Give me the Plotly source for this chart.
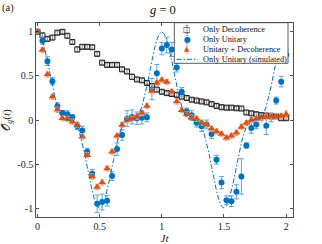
import plotly.graph_objects as go

# ---------------- data ----------------
t_exp = [0.00, 0.04, 0.08, 0.12, 0.16, 0.20, 0.24, 0.28, 0.32, 0.36,
         0.40, 0.44, 0.48, 0.52, 0.56, 0.60, 0.64, 0.68, 0.72, 0.76,
         0.80, 0.84, 0.88, 0.92, 0.96, 1.00, 1.04, 1.08, 1.12, 1.16,
         1.20, 1.24, 1.28, 1.32, 1.36, 1.40, 1.44, 1.48, 1.52, 1.56,
         1.60, 1.64, 1.68, 1.72, 1.76, 1.80, 1.84, 1.88, 1.92, 1.96, 2.00]

only_decoherence = [1.00, 0.96, 0.92, 0.935, 0.99, 1.00, 0.955, 0.885, 0.80, 0.83,
                    0.83, 0.825, 0.75, 0.65, 0.625, 0.625, 0.625, 0.575, 0.55, 0.49,
                    0.46, 0.45, 0.42, 0.385, 0.345, 0.32, 0.305, 0.295, 0.285, 0.265,
                    0.25, 0.23, 0.22, 0.21, 0.20, 0.18, 0.16, 0.145, 0.14, 0.14,
                    0.133, 0.13, 0.085, 0.076, 0.065, 0.055, 0.05, 0.045, 0.04, 0.02, 0.02]
only_decoherence_err = [0.01, 0.02, 0.02, 0.02, 0.02, 0.02, 0.02, 0.02, 0.03, 0.02,
                        0.02, 0.02, 0.02, 0.02, 0.02, 0.02, 0.02, 0.02, 0.02, 0.03,
                        0.02, 0.02, 0.02, 0.02, 0.02, 0.02, 0.02, 0.02, 0.02, 0.02,
                        0.02, 0.02, 0.02, 0.02, 0.02, 0.02, 0.02, 0.02, 0.02, 0.02,
                        0.02, 0.02, 0.02, 0.02, 0.02, 0.02, 0.02, 0.02, 0.02, 0.02, 0.02]

only_unitary = [1.00, 0.90, 0.667, 0.44, 0.155, 0.08, 0.065, 0.03, -0.07, -0.12,
                -0.36, -0.61, -0.95, -0.93, -0.915, -0.636, -0.33, -0.17, 0.015, 0.035,
                0.02, 0.025, 0.03, 0.35, 0.53, 0.81, 0.85, 0.80, 0.595, 0.32,
                0.095, 0.055, -0.03, -0.07, -0.05, -0.16, -0.45, -0.71, -0.91, -0.92,
                -0.815, -0.64, -0.29, -0.09, -0.05, 0.03, -0.065, 0.03, 0.22, 0.435, 0.74]
only_unitary_err = [0.02, 0.04, 0.05, 0.04, 0.04, 0.03, 0.04, 0.03, 0.04, 0.05,
                    0.04, 0.05, 0.10, 0.09, 0.06, 0.05, 0.07, 0.06, 0.09, 0.08,
                    0.07, 0.07, 0.05, 0.12, 0.10, 0.07, 0.09, 0.08, 0.05, 0.05,
                    0.04, 0.05, 0.05, 0.06, 0.05, 0.05, 0.05, 0.07, 0.05, 0.06,
                    0.08, 0.20, 0.03, 0.06, 0.05, 0.04, 0.10, 0.05, 0.04, 0.06, 0.06]

unitary_plus_decoherence = [1.00, 0.795, 0.515, 0.265, 0.115, 0.02, 0.01, -0.02, -0.055, -0.19,
                            -0.40, -0.64, -0.76, -0.71, -0.55, -0.36, -0.18, -0.057, 0.00, 0.01,
                            0.04, 0.08, 0.16, 0.33, 0.42, 0.455, 0.43, 0.32, 0.21, 0.11,
                            0.065, 0.025, 0.015, -0.03, -0.05, -0.10, -0.13, -0.16, -0.20, -0.18,
                            -0.145, -0.08, -0.035, 0.00, 0.015, 0.03, 0.035, 0.04, 0.04, 0.045, 0.065]
unitary_plus_decoherence_err = [0.02, 0.03, 0.03, 0.03, 0.03, 0.03, 0.03, 0.03, 0.03, 0.03,
                                0.03, 0.03, 0.03, 0.03, 0.03, 0.03, 0.03, 0.03, 0.03, 0.03,
                                0.03, 0.03, 0.03, 0.03, 0.03, 0.03, 0.03, 0.03, 0.03, 0.03,
                                0.03, 0.03, 0.03, 0.03, 0.03, 0.03, 0.03, 0.03, 0.03, 0.03,
                                0.03, 0.03, 0.03, 0.03, 0.03, 0.03, 0.03, 0.03, 0.03, 0.03, 0.04]

t_sim = [0.00, 0.02, 0.04, 0.06, 0.08, 0.10, 0.12, 0.14, 0.16, 0.18,
         0.20, 0.22, 0.24, 0.26, 0.28, 0.30, 0.32, 0.34, 0.36, 0.38,
         0.40, 0.42, 0.44, 0.46, 0.48, 0.50, 0.52, 0.54, 0.56, 0.58,
         0.60, 0.62, 0.64, 0.66, 0.68, 0.70, 0.72, 0.74, 0.76, 0.78,
         0.80, 0.82, 0.84, 0.86, 0.88, 0.90, 0.92, 0.94, 0.96, 0.98,
         1.00, 1.02, 1.04, 1.06, 1.08, 1.10, 1.12, 1.14, 1.16, 1.18,
         1.20, 1.22, 1.24, 1.26, 1.28, 1.30, 1.32, 1.34, 1.36, 1.38,
         1.40, 1.42, 1.44, 1.46, 1.48, 1.50, 1.52, 1.54, 1.56, 1.58,
         1.60, 1.62, 1.64, 1.66, 1.68, 1.70, 1.72, 1.74, 1.76, 1.78,
         1.80, 1.82, 1.84, 1.86, 1.88, 1.90, 1.92, 1.94, 1.96, 1.98, 2.00]
only_unitary_sim = [1.000, 0.977, 0.909, 0.804, 0.673, 0.530, 0.387, 0.259, 0.154, 0.077,
                    0.030, 0.007, 0.000, 0.000, -0.007, -0.030, -0.077, -0.154, -0.259, -0.387,
                    -0.530, -0.673, -0.804, -0.909, -0.977, -1.000, -0.977, -0.909, -0.804, -0.673,
                    -0.530, -0.387, -0.259, -0.154, -0.077, -0.030, -0.007, 0.000, 0.000, 0.007,
                    0.030, 0.077, 0.154, 0.259, 0.387, 0.530, 0.673, 0.804, 0.909, 0.977,
                    1.000, 0.977, 0.909, 0.804, 0.673, 0.530, 0.387, 0.259, 0.154, 0.077,
                    0.030, 0.007, 0.000, 0.000, -0.007, -0.030, -0.077, -0.154, -0.259, -0.387,
                    -0.530, -0.673, -0.804, -0.909, -0.977, -1.000, -0.977, -0.909, -0.804, -0.673,
                    -0.530, -0.387, -0.259, -0.154, -0.077, -0.030, -0.007, 0.000, 0.000, 0.007,
                    0.030, 0.077, 0.154, 0.259, 0.387, 0.530, 0.673, 0.804, 0.909, 0.977, 1.000]

x_ticks = [0, 0.5, 1, 1.5, 2]
x_tick_labels = ["0", "0.5", "1", "1.5", "2"]
y_ticks = [-1, -0.5, 0, 0.5, 1]
y_tick_labels = ["-1", "-0.5", "0", "0.5", "1"]

legend_labels = ["Only Decoherence", "Only Unitary", "Unitary + Decoherence",
                 "Only Unitary (simulated)"]

# ---------------- style ----------------
BLUE = "#0072BD"
ORANGE = "#D95319"
SERIF = "Liberation Serif"
AX = "#262626"

W, H = 322, 244
ML, MR, MT, MB = 36, 29, 23, 27
PW, PH = W - ML - MR, H - MT - MB


def px2paper(px, py):
    return (px - ML) / PW, (H - MB - py) / PH


fig = go.Figure()

fig.add_trace(go.Scatter(
    x=t_exp, y=only_decoherence, mode="markers", name=legend_labels[0],
    marker=dict(symbol="square-open", size=5, color="#1a1a1a", line=dict(width=1, color="#1a1a1a")),
    error_y=dict(type="data", array=only_decoherence_err, color="#777777", thickness=0.8, width=2),
    showlegend=False))

fig.add_trace(go.Scatter(
    x=t_exp, y=only_unitary, mode="markers", name=legend_labels[1],
    marker=dict(symbol="circle", size=6, color=BLUE),
    error_y=dict(type="data", array=only_unitary_err, color="#5aa5d8", thickness=1, width=2.5),
    showlegend=False))

fig.add_trace(go.Scatter(
    x=t_exp, y=unitary_plus_decoherence, mode="markers", name=legend_labels[2],
    marker=dict(symbol="triangle-up", size=7, color=ORANGE),
    error_y=dict(type="data", array=unitary_plus_decoherence_err, color="#f0a988", thickness=1.2, width=2),
    showlegend=False))

fig.add_trace(go.Scatter(
    x=t_sim, y=only_unitary_sim, mode="lines", name=legend_labels[3],
    line=dict(color=BLUE, width=1, dash="5px,2px,1.5px,2px"),
    showlegend=False))

# ---------------- custom legend (MATLAB-style compact box) ----------------
bx0, by1 = px2paper(174.3, 22.7)
bx1, by0 = px2paper(288.0, 63.3)
fig.add_shape(type="rect", xref="paper", yref="paper", x0=bx0, x1=bx1, y0=by0, y1=by1,
              line=dict(color="#333333", width=0.8), fillcolor="white", layer="above")

row_py = [29.3, 39.3, 49.3, 59.3]
sym_px = 187.0
text_px = 200.5
symbols = [("□", "#1a1a1a", 8), ("●", BLUE, 8), ("▲", ORANGE, 7)]
err_cols = ["#777777", "#5aa5d8", "#f0a988"]
anns = []
for i, lab in enumerate(legend_labels):
    sx, sy = px2paper(text_px, row_py[i])
    anns.append(dict(x=sx, y=sy, xref="paper", yref="paper", text=lab, showarrow=False,
                     xanchor="left", yanchor="middle",
                     font=dict(family=SERIF, size=8.3, color="#111111")))
    if i < 3:
        ecol = err_cols[i]
        ex, ey0 = px2paper(sym_px, row_py[i] + 4)
        _, ey1 = px2paper(sym_px, row_py[i] - 4)
        fig.add_shape(type="line", xref="paper", yref="paper", x0=ex, x1=ex, y0=ey0, y1=ey1,
                      line=dict(color=ecol, width=0.8), layer="above")
        cx0, _ = px2paper(sym_px - 1.5, 0)
        cx1, _ = px2paper(sym_px + 1.5, 0)
        for yy in (ey0, ey1):
            fig.add_shape(type="line", xref="paper", yref="paper", x0=cx0, x1=cx1, y0=yy, y1=yy,
                          line=dict(color=ecol, width=0.8), layer="above")
        g, c, s = symbols[i]
        gx, gy = px2paper(sym_px, row_py[i])
        anns.append(dict(x=gx, y=gy, xref="paper", yref="paper", text=g, showarrow=False,
                         xanchor="center", yanchor="middle",
                         font=dict(family="DejaVu Sans", size=s, color=c)))
lx0, ly = px2paper(176.5, row_py[3])
lx1, _ = px2paper(198.0, row_py[3])
fig.add_shape(type="line", xref="paper", yref="paper", x0=lx0, x1=lx1, y0=ly, y1=ly,
              line=dict(color=BLUE, width=1, dash="5px,2px,1.5px,2px"), layer="above")

# panel label and title
ax_, ay_ = px2paper(7.5, 7.5)
anns.append(dict(x=ax_, y=ay_, xref="paper", yref="paper", text="(a)", showarrow=False,
                 xanchor="center", yanchor="middle", font=dict(family=SERIF, size=10.5, color="#111111")))
tx_, ty_ = px2paper(162.5, 10.0)
anns.append(dict(x=tx_, y=ty_, xref="paper", yref="paper", text="<i>g</i> = 0", showarrow=False,
                 xanchor="center", yanchor="middle", font=dict(family=SERIF, size=12.5, color="#111111")))

fig.update_layout(
    width=W, height=H,
    margin=dict(l=ML, r=MR, t=MT, b=MB, pad=0, autoexpand=False),
    paper_bgcolor="white", plot_bgcolor="white",
    font=dict(family=SERIF, size=10, color=AX),
    annotations=anns,
    showlegend=False,
    xaxis=dict(
        range=[-0.012, 2.055], tickvals=x_ticks, ticktext=x_tick_labels,
        ticks="inside", ticklen=3, tickcolor=AX, tickwidth=0.8,
        showline=True, linecolor=AX, linewidth=0.8, mirror="ticks",
        showgrid=False, zeroline=False, automargin=False,
        tickfont=dict(family=SERIF, size=10, color=AX),
        title=dict(text="<i>Jt</i>", font=dict(family=SERIF, size=11, color=AX), standoff=2),
    ),
    yaxis=dict(
        range=[-1.1, 1.1], tickvals=y_ticks, ticktext=y_tick_labels,
        ticks="inside", ticklen=3, tickcolor=AX, tickwidth=0.8,
        showline=True, linecolor=AX, linewidth=0.8, mirror="ticks",
        showgrid=False, zeroline=False, automargin=False,
        tickfont=dict(family=SERIF, size=10, color=AX),
        title=dict(text="𝒪<sub><i>g</i></sub>(<i>t</i>)", font=dict(family=SERIF, size=11, color=AX), standoff=6),
    ),
)

fig.write_html("out.html",
               config={"displayModeBar": False, "staticPlot": True},
               post_script="document.body.style.margin='0';document.body.style.padding='0';")
